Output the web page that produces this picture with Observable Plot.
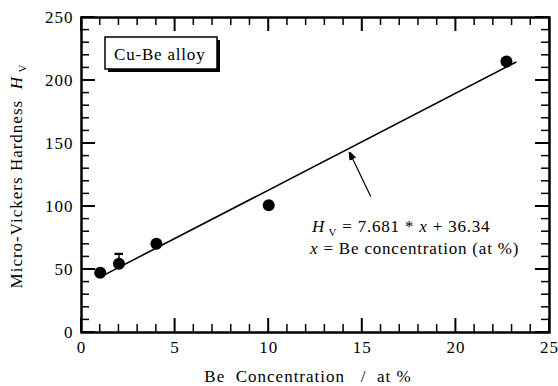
<!DOCTYPE html>
<html><head><meta charset="utf-8">
<script src="https://cdn.jsdelivr.net/npm/d3@7"></script>
<script src="https://cdn.jsdelivr.net/npm/@observablehq/plot@0.6"></script>
<style>body{margin:0;background:#fff} svg{display:block} svg text{white-space:pre}</style>
</head><body><div id="chart"></div>
<script>
// Data
const conc = [1, 2, 4, 10, 22.7];
const hardness = [47.5, 54.5, 70.5, 101, 215];
const errConc = [2];
const errTop = [62];
const fitSlope = 7.681, fitIntercept = 36.34;
const fitRange = [1.3, 23.2];
const xMajor = [0, 5, 10, 15, 20, 25];
const yMajor = [0, 50, 100, 150, 200, 250];
const xMinor = [1, 2, 3, 4, 6, 7, 8, 9, 11, 12, 13, 14, 16, 17, 18, 19, 21, 22, 23, 24];
const yMinor = [10, 20, 30, 40, 60, 70, 80, 90, 110, 120, 130, 140, 160, 170, 180, 190, 210, 220, 230, 240];
const arrowFrom = [15.45, 108];
const arrowTo = [14.35, 142];
const boxLabel = "Cu-Be alloy";
const xLabel = "Be  Concentration   /  at %";
const yLabel = "Micro-Vickers Hardness  ";
const eqLine2 = " = Be concentration (at %)";

const points = conc.map((c, i) => ({c, h: hardness[i]}));
const errs = errConc.map((c, i) => ({c, lo: hardness[conc.indexOf(c)], hi: errTop[i]}));
const fit = fitRange.map(x => ({x, y: fitSlope * x + fitIntercept}));

function filledArrow(color) {
  const m = d3.create("svg:marker")
    .attr("viewBox", "-6 -4 8 8").attr("markerWidth", 8).attr("markerHeight", 8)
    .attr("orient", "auto").attr("markerUnits", "userSpaceOnUse").attr("fill", color);
  m.append("path").attr("d", "M-6,-3L2,0L-6,3Z");
  return m.node();
}

const W = 558, H = 386, mL = 81, mR = 9, mT = 17, mB = 54;
const xDomain = [0, 25], yDomain = [0, 250];
const serif = "Liberation Serif";
const font = {fontSize: 17, fontFamily: serif};
const chart = Plot.plot({
  width: W, height: H,
  marginLeft: mL, marginRight: mR, marginTop: mT, marginBottom: mB,
  style: {fontFamily: serif, fontSize: "17px", color: "black", background: "white"},
  x: {domain: xDomain},
  y: {domain: yDomain},
  marks: [
    Plot.frame({stroke: "black", fill: "none", strokeWidth: 2.5}),
    Plot.axisX({ticks: xMajor, anchor: "bottom", tickSize: 0, tickPadding: 8, label: null, ...font}),
    Plot.axisY({ticks: yMajor, anchor: "left", tickSize: 0, tickPadding: 8, label: null, ...font}),
    Plot.line(fit, {x: "x", y: "y", stroke: "black", strokeWidth: 1.6}),
    Plot.ruleX(errs, {x: "c", y1: "lo", y2: "hi", stroke: "black", strokeWidth: 1.5, markerEnd: "tick"}),
    Plot.dot(points, {x: "c", y: "h", r: 6, fill: "black"}),
    Plot.link([{x1: arrowFrom[0], y1: arrowFrom[1], x2: arrowTo[0], y2: arrowTo[1]}],
      {x1: "x1", y1: "y1", x2: "x2", y2: "y2", stroke: "black", strokeWidth: 1.2, markerEnd: filledArrow})
  ]
});
document.getElementById("chart").appendChild(chart);
d3.select(chart).selectAll("[aria-label='x-axis tick label'] text, [aria-label='y-axis tick label'] text").attr("letter-spacing", 1);

const svg = d3.select(chart);
const sx = chart.scale("x").apply, sy = chart.scale("y").apply;
const x0 = sx(xDomain[0]), x1 = sx(xDomain[1]), y0 = sy(yDomain[0]), y1 = sy(yDomain[1]);

// Inward ticks on all four sides, positioned with Plot's own scales
const tg = svg.append("g").attr("stroke", "black");
const addX = (vals, len, sw) => vals.forEach(v => {
  tg.append("line").attr("x1", sx(v)).attr("x2", sx(v)).attr("y1", y0).attr("y2", y0 - len).attr("stroke-width", sw);
  tg.append("line").attr("x1", sx(v)).attr("x2", sx(v)).attr("y1", y1).attr("y2", y1 + len).attr("stroke-width", sw);
});
const addY = (vals, len, sw) => vals.forEach(v => {
  tg.append("line").attr("y1", sy(v)).attr("y2", sy(v)).attr("x1", x0).attr("x2", x0 + len).attr("stroke-width", sw);
  tg.append("line").attr("y1", sy(v)).attr("y2", sy(v)).attr("x1", x1).attr("x2", x1 - len).attr("stroke-width", sw);
});
addX(xMinor, 8, 1.5); addX(xMajor, 14, 2);
addY(yMinor, 8, 1.5); addY(yMajor, 14, 2);

const txt = (sel) => sel.attr("font-family", serif).attr("font-size", 17).attr("fill", "black")
  .attr("letter-spacing", 0.8).attr("text-anchor", "start");

// Legend box with drop shadow
const g = svg.append("g");
g.append("rect").attr("x", 108).attr("y", 40).attr("width", 112).attr("height", 32).attr("fill", "black");
g.append("rect").attr("x", 105).attr("y", 37).attr("width", 112).attr("height", 32).attr("fill", "white").attr("stroke", "black").attr("stroke-width", 1.5);
txt(g.append("text")).attr("x", 114).attr("y", 60).text(boxLabel);

// Axis titles
txt(svg.append("text")).attr("x", 308).attr("y", 382).attr("text-anchor", "middle").attr("letter-spacing", 1).text(xLabel);
const yl = txt(svg.append("text")).attr("transform", "translate(22,176) rotate(-90)").attr("text-anchor", "middle").attr("letter-spacing", 1);
yl.append("tspan").text(yLabel);
yl.append("tspan").attr("font-style", "italic").text("H");
yl.append("tspan").attr("font-size", 11).attr("dy", 4).text(" V");

// Equation annotation
const eq = txt(svg.append("text")).attr("x", 312).attr("y", 232);
eq.append("tspan").attr("font-style", "italic").text("H");
eq.append("tspan").attr("font-size", 11).attr("dy", 4).text(" V");
eq.append("tspan").attr("dy", -4).text(` = ${fitSlope} * `);
eq.append("tspan").attr("font-style", "italic").text("x");
eq.append("tspan").text(` + ${fitIntercept}`);
const eq2 = txt(svg.append("text")).attr("x", 310).attr("y", 254);
eq2.append("tspan").attr("font-style", "italic").text("x");
eq2.append("tspan").text(eqLine2);
</script></body></html>
